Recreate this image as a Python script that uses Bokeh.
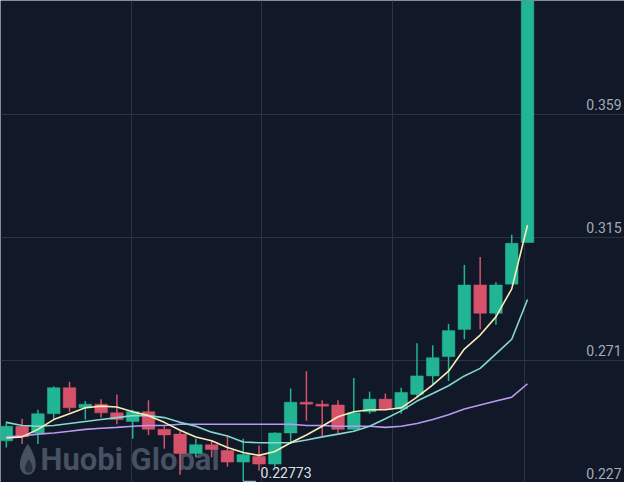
import numpy as np
from bokeh.plotting import figure
from bokeh.models import Range1d, FixedTicker, ColumnDataSource, Label
from bokeh.core.properties import value
from bokeh.embed import file_html
from bokeh.resources import INLINE

# ---------------- data ----------------
candle_index = list(range(34))
open_ = [0.2422, 0.2474, 0.2450, 0.2519, 0.2612, 0.2540, 0.2553, 0.2522, 0.2491, 0.2526,
         0.2463, 0.2446, 0.2377, 0.2408, 0.2387, 0.2346, 0.2366, 0.2339, 0.2450, 0.2560,
         0.2553, 0.2550, 0.2463, 0.2526, 0.2571, 0.2536, 0.2588, 0.2654, 0.2723, 0.2820,
         0.2979, 0.2878, 0.2982, 0.3131]
close = [0.2474, 0.2436, 0.2519, 0.2612, 0.2540, 0.2553, 0.2522, 0.2498, 0.2526, 0.2463,
         0.2443, 0.2377, 0.2408, 0.2391, 0.2346, 0.2373, 0.2339, 0.2450, 0.2560, 0.2553,
         0.2546, 0.2463, 0.2522, 0.2571, 0.2536, 0.2595, 0.2654, 0.2719, 0.2816, 0.2979,
         0.2878, 0.2979, 0.3128, 0.4200]
high = [0.2491, 0.2501, 0.2533, 0.2616, 0.2633, 0.2564, 0.2571, 0.2588, 0.2533, 0.2567,
        0.2474, 0.2456, 0.2429, 0.2422, 0.2443, 0.2429, 0.2405, 0.2453, 0.2609, 0.2671,
        0.2567, 0.2567, 0.2647, 0.2598, 0.2591, 0.2612, 0.2771, 0.2764, 0.2840, 0.3051,
        0.3079, 0.2989, 0.3159, 0.4300]
low = [0.2398, 0.2411, 0.2411, 0.2498, 0.2526, 0.2498, 0.2505, 0.2481, 0.2429, 0.2443,
       0.2394, 0.2301, 0.2363, 0.2363, 0.2329, 0.22773, 0.2315, 0.2329, 0.2418, 0.2494,
       0.2439, 0.2450, 0.2460, 0.2519, 0.2533, 0.2519, 0.2578, 0.2622, 0.2636, 0.2785,
       0.2820, 0.2837, 0.2982, 0.3131]

ma_yellow = [0.2432, 0.2436, 0.2463, 0.2498, 0.2519, 0.2540, 0.2546, 0.2543, 0.2526, 0.2512,
             0.2488, 0.2460, 0.2436, 0.2422, 0.2398, 0.2380, 0.2370, 0.2384, 0.2415, 0.2443,
             0.2474, 0.2508, 0.2526, 0.2533, 0.2533, 0.2540, 0.2578, 0.2622, 0.2671, 0.2750,
             0.2800, 0.2865, 0.2965, 0.3193]
ma_teal = [0.2488, 0.2477, 0.2474, 0.2477, 0.2484, 0.2491, 0.2498, 0.2505, 0.2512, 0.2512,
           0.2505, 0.2488, 0.2474, 0.2453, 0.2439, 0.2418, 0.2415, 0.2415, 0.2415, 0.2425,
           0.2436, 0.2446, 0.2456, 0.2474, 0.2501, 0.2529, 0.2564, 0.2591, 0.2619, 0.2654,
           0.2681, 0.2733, 0.2785, 0.2927]
ma_purple = [0.2436, 0.2439, 0.2446, 0.2450, 0.2456, 0.2463, 0.2467, 0.2470, 0.2474, 0.2477,
             0.2477, 0.2481, 0.2481, 0.2481, 0.2481, 0.2481, 0.2481, 0.2481, 0.2481, 0.2477,
             0.2477, 0.2474, 0.2474, 0.2474, 0.2470, 0.2474, 0.2484, 0.2498, 0.2515, 0.2536,
             0.2550, 0.2564, 0.2578, 0.2626]

price_levels = [0.227, 0.271, 0.315, 0.359]
price_labels = ["0.227", "0.271", "0.315", "0.359"]
time_grid = [7.9, 16.17, 24.44, 32.78]
watermark = "Huobi Global"

# ---------------- style ----------------
BG = "#111827"
GRID = "#2a3342"
UP = "#22b594"
DOWN = "#d6526b"
TXT = "#a3abb8"

p = figure(width=624, height=482, output_backend="svg", toolbar_location=None,
           x_range=Range1d(-0.37, 39.14), y_range=Range1d(0.2273, 0.3996),
           min_border=0, background_fill_color=BG, border_fill_color=BG,
           outline_line_color=None)
p.xaxis.visible = False
p.yaxis.visible = False
p.xgrid.ticker = FixedTicker(ticks=time_grid)
p.ygrid.ticker = FixedTicker(ticks=price_levels)
p.xgrid.grid_line_color = GRID
p.ygrid.grid_line_color = GRID
p.xgrid.grid_line_width = 1
p.ygrid.grid_line_width = 1

o = np.array(open_)
c = np.array(close)
colors = [UP if cc >= oo else DOWN for oo, cc in zip(o, c)]
src = ColumnDataSource(dict(x=candle_index, open=o, close=c, high=high, low=low,
                            top=np.maximum(o, c), bottom=np.minimum(o, c), color=colors))

# watermark (drawn behind candles)
def to_x(X):
    return (X - 6) / 16.2

def to_y(Y):
    return 0.39957 - 0.0003459 * Y

t = np.linspace(0, 2 * np.pi, 80)
fx = 28 + 10.5 * np.sin(t) * np.sin(t / 2)
fy = 474 - 16 * np.cos(t)
p.patch(to_x(fx), to_y(fy), fill_color="#596476", fill_alpha=0.75, line_color=None)
ix = 29 + 5 * np.sin(t) * np.sin(t / 2)
iy = 481 - 7 * np.cos(t)
p.patch(to_x(ix), to_y(iy), fill_color=BG, fill_alpha=0.6, line_color=None)

p.add_layout(Label(x=40, y=5, x_units="screen", y_units="screen", text=watermark,
                   text_font="Roboto", text_font_style="bold",
                   text_font_size="31px", text_color="#596476", text_alpha=0.75,
                   text_baseline="bottom", level="underlay"))

p.segment(x0="x", y0="low", x1="x", y1="high", source=src, line_color="color", line_width=1.5)
p.vbar(x="x", width=0.8, top="top", bottom="bottom", source=src,
       fill_color="color", line_color="color", line_width=0.5)

p.line(candle_index, ma_purple, line_color="#b99af2", line_width=1.6)
p.line(candle_index, ma_teal, line_color="#86d8cf", line_width=1.6)
p.line(candle_index, ma_yellow, line_color="#f6edb8", line_width=1.6)

# price labels at the right edge
p.text(x=[p.x_range.end] * len(price_levels), y=price_levels, text=price_labels,
       text_font=value("Roboto"), text_font_size="14px", text_color=TXT,
       text_baseline="middle", text_align="right", x_offset=-3, y_offset=-10)

# lowest price marker
li = int(np.argmin(low))
lv = low[li]
p.segment(x0=[li], y0=[lv], x1=[li + 0.8], y1=[lv], line_color="#d0d5dc", line_width=1)
p.text(x=[li + 1.1], y=[lv], text=[f"{lv:.5f}"], text_font=value("Roboto"),
       text_font_size="14px", text_color="#dde1e6", text_baseline="middle",
       text_align="left", y_offset=-9)

open("out.html", "w").write(file_html(p, INLINE))
